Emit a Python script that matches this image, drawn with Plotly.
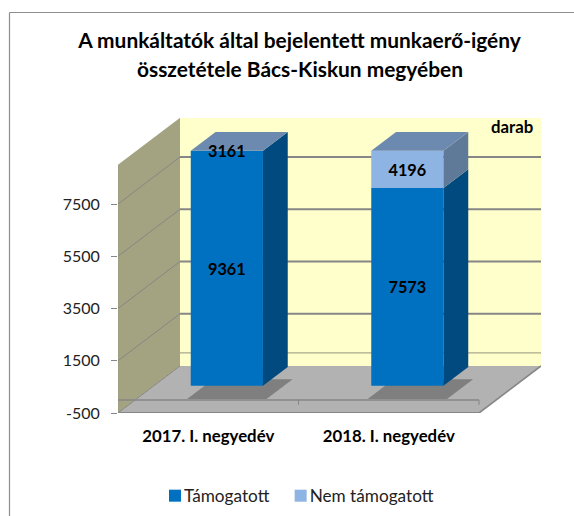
import plotly.graph_objects as go

# ---- data ----
categories = ["2017. I. negyedév", "2018. I. negyedév"]
supported = [9361, 7573]
unsupported = [3161, 4196]
y_ticks = [-500, 1500, 3500, 5500, 7500]
series_names = ["Támogatott", "Nem támogatott"]

# ---- style ----
AXIS_MIN, AXIS_CUT = -500, 9000
W, H = 574, 516
L, R, T, B = 118, 541, 118, 413
PX_PER_CAT = 180.5
PX_PER_UNIT = 52.25 / 2000
DX = 62 / PX_PER_CAT      # full depth, category units
DY = 47 / PX_PER_UNIT     # full depth, value units
D0, D1 = 0.30, 0.70       # bar depth span
BAR_W = 0.40
FONT = "Lato"
GRID = "#868686"
C_FRONT = ["#0070C0", "#8DB4E2"]
C_SIDE = ["#004A7F", "#5F7A99"]
C_TOP = "#6C8AB0"


def pr(x, v, d=0.0):
    return x + DX * d, v + DY * d


def poly(points, color, line=None, width=0):
    pts = [pr(*p) for p in points]
    path = "M" + "L".join(f"{a},{b}" for a, b in pts) + "Z"
    return dict(type="path", path=path, xref="x", yref="y", layer="below",
                fillcolor=color, line=dict(color=line or color, width=width))


def seg(p, q, color=GRID, width=1.0, layer="below"):
    (a, b), (c, e) = pr(*p), pr(*q)
    return dict(type="line", x0=a, y0=b, x1=c, y1=e, xref="x", yref="y", layer=layer,
                line=dict(color=color, width=width))


def px_x(p):
    return (p - L) / (R - L)


def px_y(p):
    return (B - p) / (B - T)


X0, X1 = -0.5, 1.5
shapes = [
    # chart frame
    dict(type="line", xref="paper", yref="paper", x0=px_x(9.5), x1=px_x(574), y0=px_y(12.5), y1=px_y(12.5),
         line=dict(color="#8E8E8E", width=1.2)),
    dict(type="line", xref="paper", yref="paper", x0=px_x(9.5), x1=px_x(9.5), y0=px_y(12.5), y1=px_y(516),
         line=dict(color="#8E8E8E", width=1.2)),
    # back wall, side wall, floor
    poly([(X0, AXIS_MIN, 1), (X1, AXIS_MIN, 1), (X1, AXIS_CUT, 1), (X0, AXIS_CUT, 1)], "#FFFFCC"),
    poly([(X0, AXIS_MIN, 0), (X0, AXIS_MIN, 1), (X0, AXIS_CUT, 1), (X0, AXIS_CUT, 0)], "#A3A382"),
    poly([(X0, AXIS_MIN, 0), (X1, AXIS_MIN, 0), (X1, AXIS_MIN, 1), (X0, AXIS_MIN, 1)], "#B2B2B2"),
]
for v in y_ticks[1:]:
    shapes.append(seg((X0, v, 1), (X1, v, 1), width=1.8))
    shapes.append(seg((X0, v, 0), (X0, v, 1), width=1.0))
shapes.append(seg((X0, 0, 1), (X1, 0, 1), color="#A8A88C", width=1.2))
shapes.append(seg((X0, AXIS_MIN, 0), (X0, AXIS_MIN, 1), width=1.0))
shapes.append(seg((X1, AXIS_MIN, 0), (X1, AXIS_MIN, 1), width=1.6))
shapes.append(seg((X0, AXIS_MIN, 0), (X0, AXIS_CUT, 0), color="#9A9A80", width=1.0))
shapes.append(seg((X0, AXIS_MIN, 0), (X1, AXIS_MIN, 0), width=2.2))

# floor shadows
for i in range(len(categories)):
    shapes.append(poly([(i - 0.22, AXIS_MIN, D0), (i + 0.22, AXIS_MIN, D0),
                        (i + 0.22, AXIS_MIN, 0.72), (i - 0.22, AXIS_MIN, 0.72)], "#7F7F7F"))

# category axis at value 0
shapes.append(seg((X0, 0, 0), (X1, 0, 0), width=1.6))
for xt in (0.5, 1.5):
    shapes.append(seg((xt, 0, 0), (xt, -190, 0), width=1.0))

lower = [min(s, AXIS_CUT) for s in supported]
upper = [min(s + u, AXIS_CUT) for s, u in zip(supported, unsupported)]

fig = go.Figure()
bar_x = [pr(i, 0, D0)[0] for i in range(len(categories))]
bar_off = pr(0, 0, D0)[1]
fig.add_trace(go.Bar(x=bar_x, y=lower, base=[bar_off] * 2, width=BAR_W, name=series_names[0],
                     marker=dict(color=C_FRONT[0], line=dict(width=0))))
fig.add_trace(go.Bar(x=bar_x, y=[u - l for u, l in zip(upper, lower)], base=[l + bar_off for l in lower],
                     width=BAR_W, name=series_names[1],
                     marker=dict(color=C_FRONT[1], line=dict(width=0))))


def face(points, color):
    xs, ys = zip(*[pr(*p) for p in points])
    fig.add_trace(go.Scatter(x=list(xs), y=list(ys), mode="lines", fill="toself", fillcolor=color,
                             line=dict(width=0, color=color), hoverinfo="skip",
                             showlegend=False, cliponaxis=False))


for i in range(len(categories)):
    xr, xl = i + BAR_W / 2, i - BAR_W / 2
    face([(xr, 0, D0), (xr, lower[i], D0), (xr, lower[i], D1), (xr, 0, D1)], C_SIDE[0])
    if upper[i] > lower[i]:
        face([(xr, lower[i], D0), (xr, upper[i], D0), (xr, upper[i], D1), (xr, lower[i], D1)], C_SIDE[1])
    face([(xl, upper[i], D0), (xr, upper[i], D0), (xr, upper[i], D1), (xl, upper[i], D1)], C_TOP)

# data labels, centred on the visible part of each segment
LABEL_NUDGE = -2.5 / PX_PER_UNIT
lx, ly, lt = [], [], []
for i in range(len(categories)):
    for val, a, b in ((supported[i], 0, lower[i]), (unsupported[i], lower[i], upper[i])):
        x, y = pr(i, (a + b) / 2, D0)
        lx.append(x)
        ly.append(y + LABEL_NUDGE)
        lt.append(str(val))
fig.add_trace(go.Scatter(x=lx, y=ly, mode="text", text=lt, textposition="middle center",
                         textfont=dict(family=FONT, size=16.3, color="#000000", weight="bold"),
                         showlegend=False, hoverinfo="skip", cliponaxis=False))

fig.update_layout(
    width=W, height=H, autosize=False,
    margin=dict(l=L, r=W - R, t=T, b=H - B, pad=0, autoexpand=False),
    paper_bgcolor="#FFFFFF", plot_bgcolor="rgba(0,0,0,0)",
    barmode="overlay", shapes=shapes,
    font=dict(family=FONT, color="#000000"),
    title=dict(text="A munkáltatók által bejelentett munkaerő-igény", x=299.5 / W, xanchor="center",
               y=1 - 40.5 / H, yanchor="middle",
               font=dict(family=FONT, size=20.9, weight="bold", color="#000000")),
    annotations=[
        dict(text="összetétele Bács-Kiskun megyében", xref="paper", yref="paper", x=px_x(299.5), y=px_y(68),
             xanchor="center", yanchor="middle", showarrow=False,
             font=dict(family=FONT, size=20.9, weight="bold", color="#000000")),
        dict(text="darab", xref="paper", yref="paper", x=px_x(535), y=px_y(126), xanchor="right", yanchor="middle",
             showarrow=False, font=dict(family=FONT, size=16.8, weight="bold", color="#000000")),
    ],
    legend=dict(orientation="h", x=px_x(144), y=px_y(496), xanchor="left", yanchor="middle",
                font=dict(family=FONT, size=17.2, color="#222222"), traceorder="normal",
                bgcolor="rgba(0,0,0,0)", itemclick=False, itemdoubleclick=False),
    xaxis=dict(range=[X0, X0 + (R - L) / PX_PER_CAT], tickmode="array", tickvals=[0, 1], ticktext=categories,
               showgrid=False, zeroline=False, showline=False, ticks="", ticklabelstandoff=11,
               tickfont=dict(family=FONT, size=16.8, weight="bold", color="#000000")),
    yaxis=dict(range=[AXIS_MIN, AXIS_MIN + (B - T) / PX_PER_UNIT], tickmode="array", tickvals=y_ticks,
               ticktext=[str(v) for v in y_ticks], showgrid=False, zeroline=False, showline=False,
               ticks="outside", ticklen=6, tickcolor=GRID, tickwidth=1.2, ticklabelstandoff=8,
               tickfont=dict(family=FONT, size=16, color="#222222")),
)

fig.write_html("out.html", config={"displayModeBar": False},
               post_script="document.body.style.margin='0';document.body.style.overflow='hidden';"
                           "document.querySelectorAll('.legend .traces .layers').forEach(function(e){"
                           "e.setAttribute('transform','translate(11,0)');});"
                           "var t=document.querySelectorAll('.legend .traces')[1];"
                           "var m=/translate\\(([-\\d.]+)[ ,]+([-\\d.]+)\\)/.exec(t.getAttribute('transform'));"
                           "t.setAttribute('transform','translate('+(parseFloat(m[1])-5)+','+m[2]+')');")
